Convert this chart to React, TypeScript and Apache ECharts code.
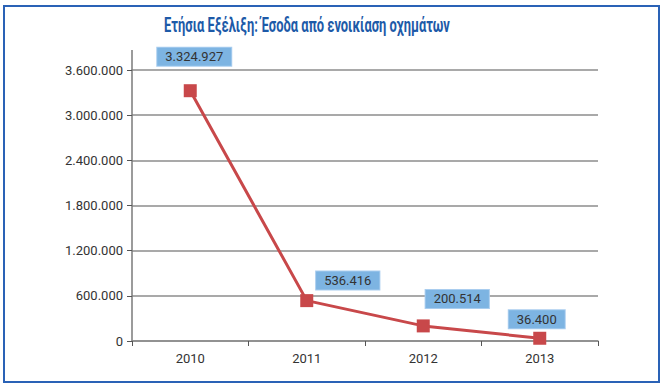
import React, { useEffect, useRef } from "react";
import * as echarts from "echarts";

const years = ["2010", "2011", "2012", "2013"];
const income = [3324927, 536416, 200514, 36400];
const yTicks = [0, 600000, 1200000, 1800000, 2400000, 3000000, 3600000];
const titleText = "Ετήσια Εξέλιξη: Έσοδα από ενοικίαση οχημάτων";

const labelOffsets: [number, number][] = [
  [4, -34],
  [41, -20],
  [34, -27],
  [-3, -19],
];

const fmt = (v: number) => v.toLocaleString("de-DE");

export default function App() {
  const ref = useRef<HTMLDivElement>(null);
  useEffect(() => {
    if (!ref.current) return;
    const chart = echarts.init(ref.current, undefined, { renderer: "svg" });
    const font = "Roboto, sans-serif";
    chart.setOption({
      animation: false,
      backgroundColor: "#ffffff",
      graphic: [
        {
          type: "text",
          x: 307,
          y: 25,
          scaleX: 0.645,
          originX: 0,
          originY: 0,
          style: {
            text: titleText,
            font: "bold 20px Roboto, sans-serif",
            fill: "#1d5aa8",
            textAlign: "center",
            textVerticalAlign: "middle",
          },
        },
        {
          type: "rect",
          shape: { x: 4, y: 6, width: 655, height: 376 },
          style: { fill: "none", stroke: "#2a62b6", lineWidth: 2 },
          z: 10,
        },
        {
          type: "line",
          shape: { x1: 132, y1: 50, x2: 132, y2: 70 },
          style: { stroke: "#7a7a7a", lineWidth: 1.5 },
        },
      ],
      grid: { left: 132, right: 66, top: 70, bottom: 48 },
      xAxis: {
        type: "category",
        data: years,
        boundaryGap: true,
        axisLine: { lineStyle: { color: "#8a8a8a", width: 1.5 } },
        axisTick: { show: true, length: 5, lineStyle: { color: "#555" } },
        axisLabel: { color: "#333", fontFamily: font, fontSize: 13, margin: 11 },
      },
      yAxis: {
        type: "value",
        min: 0,
        max: yTicks[yTicks.length - 1],
        interval: yTicks[1],
        axisLine: { show: true, lineStyle: { color: "#7a7a7a", width: 1.5 } },
        axisTick: { show: true, length: 5, lineStyle: { color: "#555" } },
        splitLine: { lineStyle: { color: "#8c8c8c", width: 1.5 } },
        axisLabel: {
          color: "#333",
          fontFamily: font,
          fontSize: 13,
          margin: 9,
          formatter: (v: number) => fmt(v),
        },
      },
      series: [
        {
          type: "line",
          data: income.map((v, i) => ({
            value: v,
            label: { offset: labelOffsets[i] },
          })),
          symbol: "rect",
          symbolSize: 13,
          lineStyle: { color: "#c8484a", width: 3 },
          itemStyle: { color: "#c8484a" },
          label: {
            show: true,
            position: "inside",
            formatter: (p: any) => fmt(p.value),
            backgroundColor: "#7db4e2",
            borderColor: "#a9cdef",
            borderWidth: 1,
            color: "#333",
            fontFamily: font,
            fontSize: 13,
            padding: [3, 8, 2, 8],
          },
        },
      ],
    });
    return () => chart.dispose();
  }, []);
  return (
    <div
      ref={ref}
      style={{ position: "absolute", left: 0, top: 0, width: 664, height: 389 }}
    />
  );
}
